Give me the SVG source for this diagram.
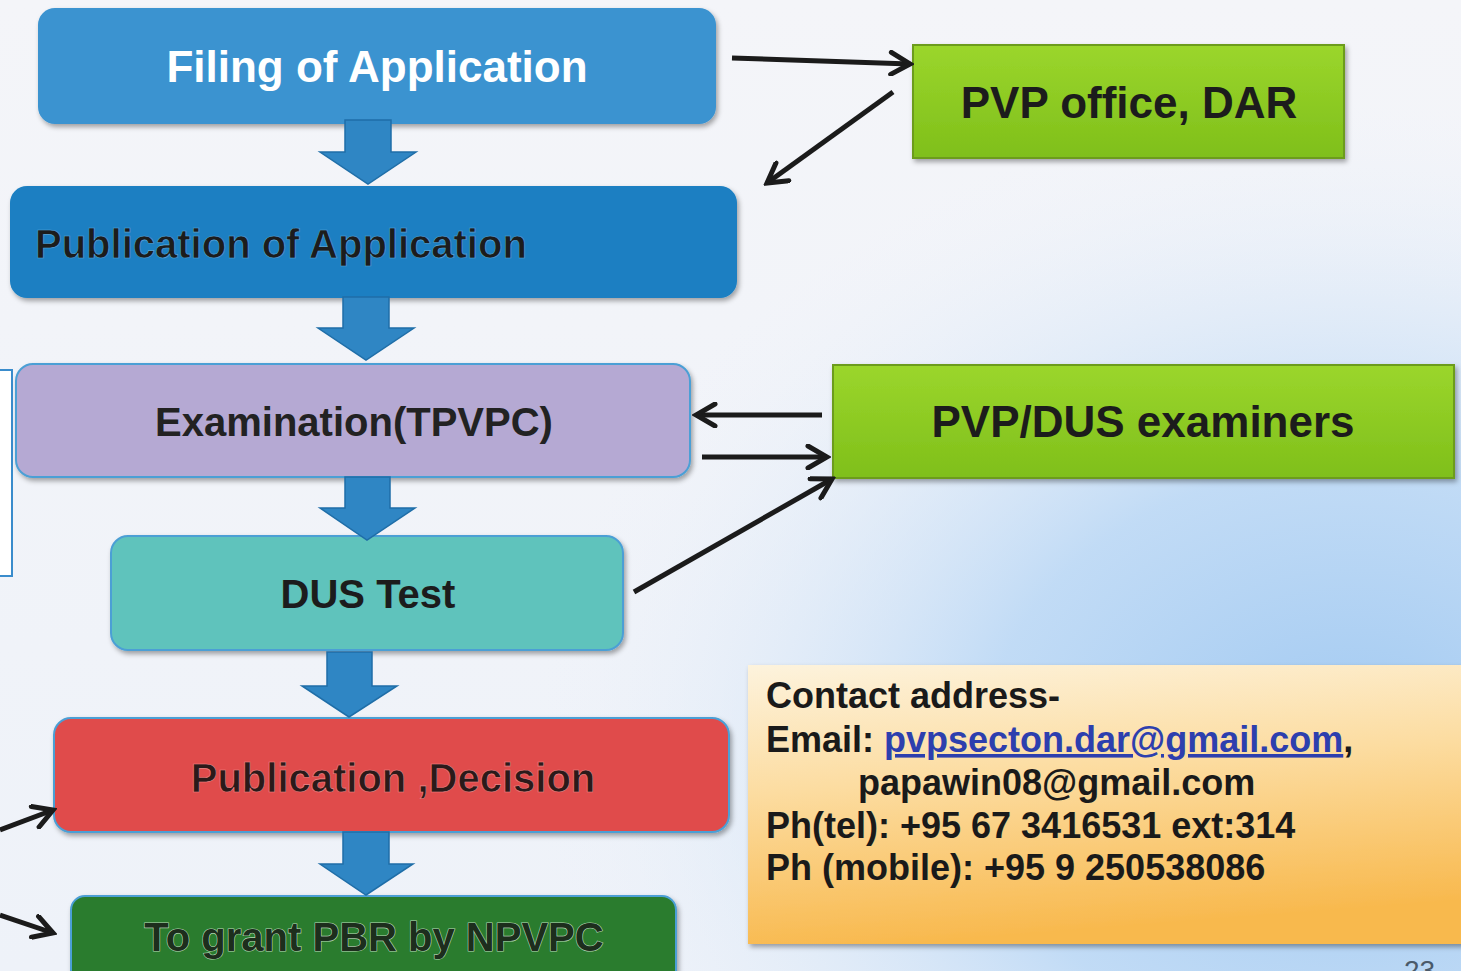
<svg xmlns="http://www.w3.org/2000/svg" width="1461" height="971" viewBox="0 0 1461 971">
  <defs>
    <linearGradient id="bg" x1="0" y1="0" x2="0" y2="971" gradientUnits="userSpaceOnUse">
      <stop offset="0" stop-color="#f4f5f9"/>
      <stop offset="1" stop-color="#eef2f9"/>
    </linearGradient>
    <radialGradient id="glow" cx="1350" cy="760" r="820" gradientUnits="userSpaceOnUse" gradientTransform="translate(1350 760) scale(1 0.8) translate(-1350 -760)">
      <stop offset="0" stop-color="#9fc8f1" stop-opacity="1"/>
      <stop offset="0.45" stop-color="#b9d7f5" stop-opacity="0.85"/>
      <stop offset="1" stop-color="#eef2f9" stop-opacity="0"/>
    </radialGradient>
    <linearGradient id="lime" x1="0" y1="0" x2="0" y2="1">
      <stop offset="0" stop-color="#9bd62c"/>
      <stop offset="1" stop-color="#7fbf1a"/>
    </linearGradient>
    <linearGradient id="cream" x1="0" y1="0" x2="0.2" y2="1">
      <stop offset="0" stop-color="#fdf3dd"/>
      <stop offset="0.45" stop-color="#fcdca0"/>
      <stop offset="1" stop-color="#f8b94e"/>
    </linearGradient>
    <filter id="sh" x="-5%" y="-10%" width="110%" height="130%">
      <feDropShadow dx="2" dy="3" stdDeviation="2.5" flood-color="#000" flood-opacity="0.35"/>
    </filter>
    <marker id="chev" viewBox="0 0 26 26" refX="22" refY="13" markerWidth="26" markerHeight="26" markerUnits="userSpaceOnUse" orient="auto">
      <path d="M3,2 L22,13 L3,24" fill="none" stroke="#1b1b1b" stroke-width="5" stroke-linecap="round" stroke-linejoin="miter"/>
    </marker>
  </defs>
  <style>
    .t { font-family: "Liberation Sans", Arial, sans-serif; font-weight: bold; }
    .box { stroke: #4b9fd5; stroke-width: 2; }
    .conn { stroke: #1b1b1b; stroke-width: 5; fill: none; marker-end: url(#chev); }
    .blk { fill: #2f86c4; stroke: #1f6ea8; stroke-width: 1.5; }
  </style>

  <rect x="0" y="0" width="1461" height="971" fill="url(#bg)"/>
  <rect x="0" y="0" width="1461" height="971" fill="url(#glow)"/>

  <!-- left partial frame -->
  <rect x="-10" y="370" width="22" height="206" fill="#ffffff" stroke="#3a8ccc" stroke-width="2"/>

  <g id="n-filing">
    <rect x="38" y="8" width="678" height="116" rx="17" fill="#3b93d0" filter="url(#sh)"/>
    <text class="t" x="377" y="82" font-size="44" fill="#ffffff" text-anchor="middle">Filing of Application</text>
  </g>

  <g id="n-publication-app">
    <rect x="10" y="186" width="727" height="112" rx="17" fill="#1a7fc2" filter="url(#sh)"/>
    <text class="t" x="35" y="258" font-size="40" fill="#1c1c1c" stroke="#5aa8de" stroke-width="0.6">Publication of Application</text>
  </g>

  <g id="n-exam">
    <rect class="box" x="16" y="364" width="674" height="113" rx="17" fill="#b5a9d3" filter="url(#sh)"/>
    <text class="t" x="354" y="436" font-size="40" fill="#222222" text-anchor="middle">Examination(TPVPC)</text>
  </g>

  <g id="n-dus">
    <rect class="box" x="111" y="536" width="512" height="114" rx="17" fill="#5fc3bc" filter="url(#sh)"/>
    <text class="t" x="368" y="608" font-size="40" fill="#1c1c1c" text-anchor="middle">DUS Test</text>
  </g>

  <g id="n-decision">
    <rect class="box" x="54" y="718" width="675" height="114" rx="17" fill="#e04b4b" filter="url(#sh)"/>
    <text class="t" x="393" y="792" font-size="40" fill="#2a1a1a" stroke="#f08a8a" stroke-width="0.6" text-anchor="middle">Publication ,Decision</text>
  </g>

  <g id="n-grant">
    <rect class="box" x="71" y="896" width="605" height="90" rx="14" fill="#2b7c2d" filter="url(#sh)"/>
    <text class="t" x="374" y="951" font-size="40" fill="#1d2e1d" stroke="#b5d8b5" stroke-width="1.2" paint-order="stroke" text-anchor="middle">To grant PBR by NPVPC</text>
  </g>

  <g id="n-pvp-office">
    <rect x="913" y="45" width="431" height="113" fill="url(#lime)" stroke="#6c9c1a" stroke-width="2" filter="url(#sh)"/>
    <text class="t" x="1129" y="118" font-size="44" fill="#1c1c1c" text-anchor="middle">PVP office, DAR</text>
  </g>

  <g id="n-examiners">
    <rect x="833" y="365" width="621" height="113" fill="url(#lime)" stroke="#6c9c1a" stroke-width="2" filter="url(#sh)"/>
    <text class="t" x="1143" y="437" font-size="44" fill="#1c1c1c" text-anchor="middle">PVP/DUS examiners</text>
  </g>

  <g id="n-contact">
    <rect x="748" y="665" width="720" height="279" fill="url(#cream)" filter="url(#sh)"/>
    <text class="t" font-size="36" fill="#1a1a1a">
      <tspan x="766" y="708">Contact address-</tspan>
      <tspan x="766" y="752">Email: <tspan fill="#2d3fae" text-decoration="underline">pvpsecton.dar@gmail.com</tspan>,</tspan>
      <tspan x="858" y="795">papawin08@gmail.com</tspan>
      <tspan x="766" y="838">Ph(tel): +95 67 3416531 ext:314</tspan>
      <tspan x="766" y="880">Ph (mobile): +95 9 250538086</tspan>
    </text>
  </g>

  <text x="1404" y="980" font-family="Liberation Sans, Arial, sans-serif" font-size="28" fill="#4a5a6a">23</text>

  <g id="connectors">
    <!-- block down arrows -->
    <path class="blk" d="M345,120 H391 V152 H416 L368,184 L320,152 H345 Z"/>
    <path class="blk" d="M343,297 H389 V328 H414 L366,360 L318,328 H343 Z"/>
    <path class="blk" d="M345,477 H390 V508 H415 L367,540 L320,508 H345 Z"/>
    <path class="blk" d="M327,652 H372 V686 H397 L349,717 L302,686 H327 Z"/>
    <path class="blk" d="M343,832 H389 V864 H413 L366,895 L320,864 H343 Z"/>

    <!-- black line arrows -->
    <line class="conn" x1="732" y1="58" x2="910" y2="64"/>
    <line class="conn" x1="893" y1="92" x2="767" y2="183"/>
    <line class="conn" x1="822" y1="415" x2="696" y2="415"/>
    <line class="conn" x1="702" y1="457" x2="827" y2="457"/>
    <line class="conn" x1="634" y1="592" x2="832" y2="479"/>
    <line class="conn" x1="0" y1="830" x2="53" y2="810"/>
    <line class="conn" x1="0" y1="915" x2="53" y2="933"/>
  </g>
</svg>
